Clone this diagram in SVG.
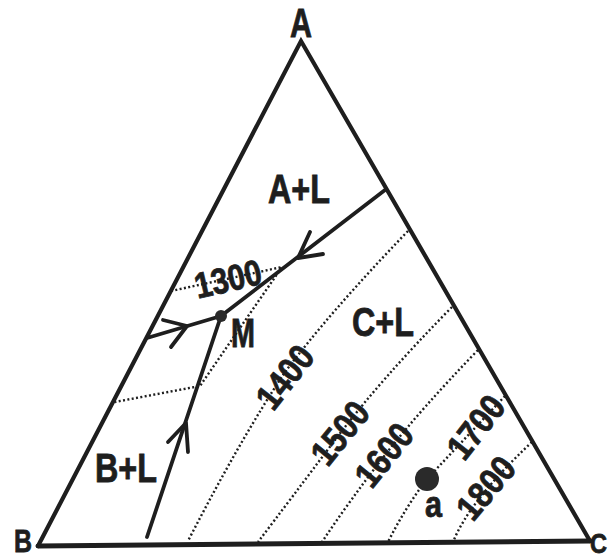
<svg xmlns="http://www.w3.org/2000/svg" width="611" height="560" viewBox="0 0 611 560">
<style>
.edge{fill:none;stroke:#1e1e1e;stroke-width:4.2;stroke-linejoin:miter;stroke-linecap:round}
.bnd{fill:none;stroke:#1e1e1e;stroke-width:3.8;stroke-linecap:round;stroke-linejoin:round}
.iso{fill:none;stroke:#1e1e1e;stroke-width:2.4;stroke-dasharray:2 2.4}
.lbl{font-family:"Liberation Sans",Arial,sans-serif;font-weight:bold;fill:#1e1e1e;stroke:#1e1e1e;stroke-width:0.8}
.big{font-size:40px}
.num{font-size:36px}
.vtx{font-size:31px}
</style>
<rect width="611" height="560" fill="#ffffff"/>
<g id="triangle">
<path class="edge" d="M38,546 L301,41 L590,541"/>
<path class="edge" style="stroke-width:5" d="M38,546 L590,541"/>
</g>
<g id="isotherms">
<path class="iso" d="M171,291 L282,267 L200,386 L115,402"/>
<path class="iso" d="M408,231 Q330,312 285,372 Q240,440 188,541"/>
<path class="iso" d="M452,307 Q380,380 335,440 Q290,500 258,542"/>
<path class="iso" d="M478,350 Q420,410 385,455 Q350,500 322,542"/>
<path class="iso" d="M505,396 L427,479 Q405,508 388,542"/>
<path class="iso" d="M532,442 Q470,500 453,542"/>
</g>
<g id="connectors">
<path class="bnd" d="M385,190 L221,316"/>
<path class="bnd" d="M310,232 L298,258 L323,254"/>
<path class="bnd" d="M147,338 L221,316"/>
<path class="bnd" d="M163,320 L187,326 L171,347"/>
<path class="bnd" d="M221,316 L147,537"/>
<path class="bnd" d="M168,442 L186,423 L188,452"/>
</g>
<g id="node-M">
<circle cx="221" cy="316" r="6" fill="#2a2a2a"/>
<text class="lbl big" x="231" y="347" textLength="24" lengthAdjust="spacingAndGlyphs">M</text>
</g>
<g id="node-a">
<circle cx="427" cy="479" r="12" fill="#2a2a2a"/>
<text class="lbl" style="font-size:36px" x="425" y="517" textLength="17" lengthAdjust="spacingAndGlyphs">a</text>
</g>
<g id="vertex-A"><text class="lbl big" x="290" y="37" textLength="22" lengthAdjust="spacingAndGlyphs">A</text></g>
<g id="vertex-B"><text class="lbl vtx" x="14" y="552" textLength="18" lengthAdjust="spacingAndGlyphs">B</text></g>
<g id="vertex-C"><text class="lbl" style="font-size:27px" x="590" y="553" textLength="17" lengthAdjust="spacingAndGlyphs">C</text></g>
<g id="field-AL"><text class="lbl big" x="268" y="203" textLength="62" lengthAdjust="spacingAndGlyphs">A+L</text></g>
<g id="field-CL"><text class="lbl big" x="352" y="336" textLength="62" lengthAdjust="spacingAndGlyphs">C+L</text></g>
<g id="field-BL"><text class="lbl big" x="95" y="482" textLength="62" lengthAdjust="spacingAndGlyphs">B+L</text></g>
<g id="temps" class="lbl num" text-anchor="middle" dominant-baseline="central">
<text transform="translate(228,279) rotate(-13)" textLength="68" lengthAdjust="spacingAndGlyphs">1300</text>
<text transform="translate(285,377) rotate(-52)" textLength="70" lengthAdjust="spacingAndGlyphs">1400</text>
<text transform="translate(340,433) rotate(-51)" textLength="70" lengthAdjust="spacingAndGlyphs">1500</text>
<text transform="translate(384,455) rotate(-51)" textLength="70" lengthAdjust="spacingAndGlyphs">1600</text>
<text transform="translate(476,427) rotate(-52)" textLength="70" lengthAdjust="spacingAndGlyphs">1700</text>
<text transform="translate(486,488) rotate(-50)" textLength="70" lengthAdjust="spacingAndGlyphs">1800</text>
</g>
</svg>
